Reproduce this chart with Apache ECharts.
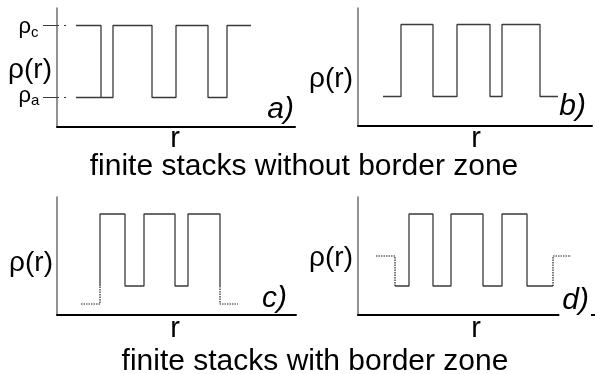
<!DOCTYPE html>
<html><head><meta charset="utf-8">
<script src="https://cdn.jsdelivr.net/npm/echarts@6/dist/echarts.min.js"></script>
<style>html,body{margin:0;padding:0;background:#fff}#c{width:595px;height:374px}</style>
</head><body><div id="c"></div>
<script>
// ---- data (r and rho in plot units) ----
const HI = 101, LO = 29;
// panel a: edges of the solid profile, starts on top level
const aEdges = [19, 44, 56, 95, 119, 151, 170, 194];
const aLevels = [HI, LO, HI, LO, HI, LO, HI];
const aRefC = [-14, 15];       // dash-dot reference at rho_c
const aRefA = [-14, 15];       // dash-dot reference at rho_a
const aSolidA = [19, 44];      // solid short segment at rho_a
// panel b
const bEdges = [25, 43, 75, 99, 132, 144, 182, 200];
const bLevels = [LO, HI, LO, HI, LO, HI, LO];
// panel c (border zone below)
const cBorder = 11;
const cEdges = [43, 68, 87, 118, 131, 163];
const cLevels = [HI, LO, HI, LO, HI];
const cLeftZone = [24, 43];
const cRightZone = [163, 181];
// panel d (border zone above)
const dBorder = 59;
const dEdges = [37, 51, 75, 93, 125, 144, 169, 195];
const dLevels = [LO, HI, LO, HI, LO, HI, LO];
const dLeftZone = [18, 37];
const dRightZone = [195, 213];
// text
const yLabel = 'ρ(r)';
const xLabel = 'r';
const panelTags = ['a)', 'b)', 'c)', 'd)'];
const captions = ['finite stacks without border zone', 'finite stacks with border zone'];

const FONT = '"Liberation Sans", Arial, Helvetica, sans-serif';
const LINE = '#3a3a3a';

function stepPts(edges, levels, startFromLevel, endToLevel) {
  const pts = [];
  if (startFromLevel !== undefined) pts.push([edges[0], startFromLevel]);
  for (let i = 0; i < levels.length; i++) {
    pts.push([edges[i], levels[i]]);
    pts.push([edges[i + 1], levels[i]]);
  }
  if (endToLevel !== undefined) pts.push([edges[edges.length - 1], endToLevel]);
  return pts;
}
function seg(idx, pts, type, width, color) {
  return {
    type: 'line', xAxisIndex: idx, yAxisIndex: idx, data: pts, symbol: 'none',
    clip: false, animation: false, silent: true,
    lineStyle: { color: color || LINE, width: width || 1.3, type: type || 'solid' }
  };
}

const grids = [
  { left: 57, top: 8, width: 238, height: 118.5 },
  { left: 358, top: 8, width: 234, height: 117.5 },
  { left: 57, top: 197, width: 239, height: 118 },
  { left: 358, top: 197, width: 237, height: 118 },
  // overlay grid for panel a reference marks left of the axis
  { left: 37, top: 8, width: 258, height: 118.5 }
];
const xAxes = grids.slice(0, 4).map((g, i) => ({
  type: 'value', gridIndex: i, min: 0, max: g.width,
  axisLine: { show: true, onZero: false, lineStyle: { color: '#000', width: 2 } },
  axisTick: { show: false }, axisLabel: { show: false }, splitLine: { show: false }
}));
xAxes.push({ type: 'value', gridIndex: 4, min: -20, max: 238, show: false });
const yAxes = grids.slice(0, 4).map((g, i) => ({
  type: 'value', gridIndex: i, min: 0, max: g.height,
  axisLine: { show: true, onZero: false, lineStyle: { color: '#6e6e6e', width: 1.5 } },
  axisTick: { show: false }, axisLabel: { show: false }, splitLine: { show: false }
}));
yAxes.push({ type: 'value', gridIndex: 4, min: 0, max: 118.5, show: false });

const DASHDOT = [16, 5, 2, 6];
const DOT = [1.5, 1];
const series = [
  // a
  seg(0, stepPts(aEdges, aLevels)),
  seg(4, aRefC.map(r => [r, HI]), DASHDOT, 1.2),
  seg(4, aRefA.map(r => [r, LO]), DASHDOT, 1.2),
  seg(0, aSolidA.map(r => [r, LO])),
  // b
  seg(1, stepPts(bEdges, bLevels)),
  // c
  seg(2, stepPts(cEdges, cLevels, LO, LO)),
  seg(2, [[cLeftZone[0], cBorder], [cLeftZone[1], cBorder], [cLeftZone[1], LO]], DOT, 1.2, '#222'),
  seg(2, [[cRightZone[0], LO], [cRightZone[0], cBorder], [cRightZone[1], cBorder]], DOT, 1.2, '#222'),
  // d
  seg(3, stepPts(dEdges, dLevels)),
  seg(3, [[dLeftZone[0], dBorder], [dLeftZone[1], dBorder], [dLeftZone[1], LO]], DOT, 1.2, '#222'),
  seg(3, [[dRightZone[0], LO], [dRightZone[0], dBorder], [dRightZone[1], dBorder]], DOT, 1.2, '#222')
];

function txt(s, x, y, size, align, extra) {
  return {
    type: 'text', x: x, y: y, z: 100, silent: true,
    style: Object.assign({ text: s, fill: '#000', font: size + 'px ' + FONT, align: align || 'center', verticalAlign: 'middle' }, extra || {})
  };
}
function itxt(s, x, y, size, bg) {
  const t = txt(s, x, y, size, 'right');
  t.style.font = 'italic ' + size + 'px ' + FONT;
  if (bg) { t.style.backgroundColor = '#fff'; t.style.padding = [0, 2, 0, 3]; }
  return t;
}

const graphic = [
  txt(yLabel, 30, 70.5, 28),
  txt(yLabel, 331, 79, 28),
  txt(yLabel, 31, 263, 28),
  txt(yLabel, 331, 258, 28),
  // rho_c / rho_a
  txt('ρ', 31, 26.5, 22, 'right'),
  txt('c', 31, 33, 15, 'left'),
  txt('ρ', 31, 95.5, 22, 'right'),
  txt('a', 31, 101, 15, 'left'),
  itxt(panelTags[0], 294, 110, 30),
  itxt(panelTags[1], 586, 107, 30),
  itxt(panelTags[2], 289, 299, 30, true),
  itxt(panelTags[3], 591, 301, 30, true),
  txt(xLabel, 175, 138.5, 29),
  txt(xLabel, 476, 138.5, 29),
  txt(xLabel, 175, 328.5, 29),
  txt(xLabel, 476, 328.5, 29),
  txt(captions[0], 304, 167, 30),
  txt(captions[1], 315, 361.5, 30)
];

const chart = echarts.init(document.getElementById('c'), null, { renderer: 'canvas' });
chart.setOption({
  animation: false,
  backgroundColor: '#fff',
  grid: grids,
  xAxis: xAxes,
  yAxis: yAxes,
  series: series,
  graphic: graphic
});
</script></body></html>
